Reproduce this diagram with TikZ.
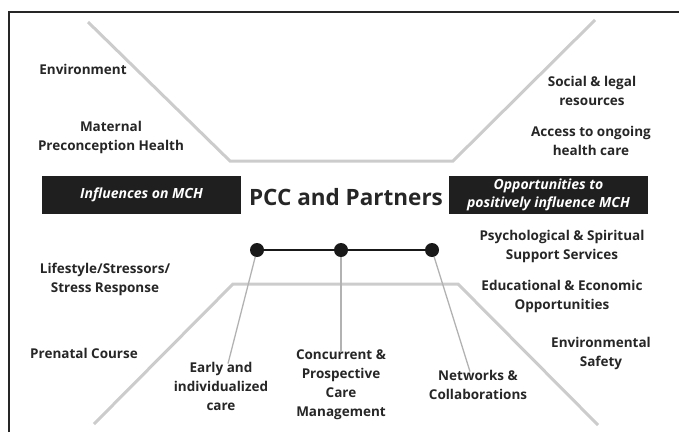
\documentclass[tikz,border=0pt]{standalone}
\usepackage{fontspec}
\setmainfont{Open Sans}
\usetikzlibrary{positioning}

\begin{document}
\begin{tikzpicture}
    [
        x=1pt,y=-1pt,
        lbl/.style={font=\bfseries\fontsize{13.5}{19}\selectfont,align=center,text=black!85,inner sep=0pt},
        band/.style={fill=black!88,minimum width=199pt,minimum height=38pt,inner sep=0pt,text=white,align=center,font=\bfseries\itshape\fontsize{14}{18}\selectfont},
        rail/.style={line width=3pt,black!20},
        spoke/.style={line width=1.3pt,black!30},
        hub/.style={circle,fill=black!90,minimum size=14pt,inner sep=0pt},
    ]
    \useasboundingbox (0,0) rectangle (679,432);
    % The frame
    \draw[line width=2pt,black!85] (9,432) -- (9,12) -- (679,12);
    % The two gray rails
    \draw[rail] (88,22) -- (230,161) -- (453,161) -- (595,20);
    \draw[rail] (94,424) -- (233,284) -- (458,284) -- (598,425);
    % Middle row
    \node[band] (infl) at (141.5,195) {Influences on MCH};
    \node[band] (opp) at (548.5,195) {Opportunities to\\positively influence MCH};
    \node[font=\bfseries\fontsize{22.5}{28}\selectfont,text=black!85,inner sep=0pt] (pcc) at (346,197) {PCC and Partners};
    % Upper labels
    \node[lbl] (env) at (83,69) {Environment};
    \node[lbl] (mat) at (111,137.5) {Maternal\\Preconception Health};
    \node[lbl] (soc) at (592,91) {Social \& legal\\resources};
    \node[lbl] (acc) at (591,141) {Access to ongoing\\health care};
    % Lower labels
    \node[lbl] (life) at (105,279.5) {Lifestyle/Stressors/\\Stress Response};
    \node[lbl] (pren) at (84,353) {Prenatal Course};
    \node[lbl] (psy) at (562,246.5) {Psychological \& Spiritual\\Support Services};
    \node[lbl] (edu) at (562,296.5) {Educational \& Economic\\Opportunities};
    \node[lbl] (safe) at (601,353.5) {Environmental\\Safety};
    \node[lbl] (early) at (221,386) {Early and\\individualized\\care};
    \node[lbl] (conc) at (341,385) {Concurrent \&\\Prospective\\Care\\Management};
    \node[lbl] (net) at (478,384.5) {Networks \&\\Collaborations};
    % The hubs and their spokes
    \node[hub] (h1) at (257,250) {};
    \node[hub] (h2) at (341,250) {};
    \node[hub] (h3) at (432,250) {};
    \draw[spoke] (h1) -- ([xshift=7pt,yshift=-2pt]early.north);
    \draw[spoke] (h2) -- ([yshift=-2pt]conc.north);
    \draw[spoke] (h3) -- ([xshift=-8pt,yshift=-2pt]net.north);
    \draw[line width=2pt,black!90] (h1) -- (h2) -- (h3);
\end{tikzpicture}
\end{document}
